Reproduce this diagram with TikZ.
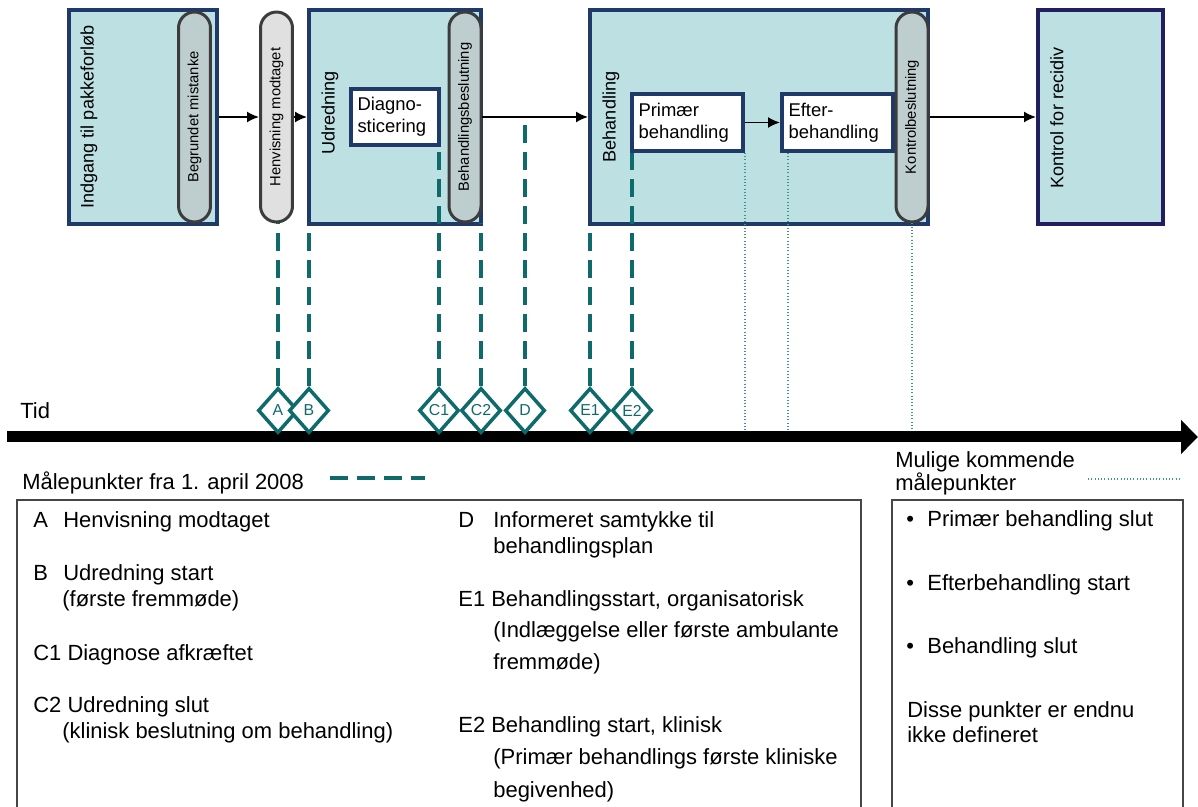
\documentclass[tikz,border=0pt]{standalone}
\usepackage{fontspec}
\setmainfont{Liberation Sans}
\usetikzlibrary{shapes.geometric,arrows.meta}

\definecolor{kassefyld}{RGB}{189,224,227}
\definecolor{marine}{RGB}{31,58,104}
\definecolor{indigo}{RGB}{34,30,96}
\definecolor{pillefyld}{RGB}{190,206,206}
\definecolor{pillelys}{RGB}{224,224,224}
\definecolor{pillekant}{RGB}{60,60,60}
\definecolor{petrol}{RGB}{15,107,107}
\definecolor{petrollys}{RGB}{60,150,150}
\definecolor{rammegraa}{RGB}{70,70,70}

\tikzset{
	kasse/.style={draw=marine, line width=0.08cm, fill=kassefyld, minimum height=4.28cm, inner sep=0},
	pille/.style={draw=pillekant, line width=0.06cm, fill=pillefyld, rounded corners=0.32cm, minimum width=4.2cm, minimum height=0.64cm, inner sep=0, rotate=90, font=\fontsize{8.4}{10}\selectfont},
	titel/.style={rotate=90, inner sep=0, font=\fontsize{10.3}{12}\selectfont},
	indre/.style={draw=marine, line width=0.08cm, fill=white, align=left, minimum height=1.14cm, inner xsep=0.13cm, font=\fontsize{10.5}{12.5}\selectfont},
	pil/.style={-{Latex[length=0.24cm,width=0.22cm]}, line width=0.035cm},
	punkt/.style={diamond, draw=petrol, line width=0.07cm, fill=white, minimum width=0.8cm, minimum height=0.9cm, inner sep=0, text=petrol, font=\fontsize{9}{10}\selectfont},
	maal/.style={draw=petrol, line width=0.07cm, dash pattern=on 0.36cm off 0.18cm},
	mulig/.style={draw=petrollys, line width=0.025cm, dash pattern=on 0.02cm off 0.045cm},
	ramme/.style={draw=rammegraa, line width=0.025cm},
	tekst/.style={anchor=base west, inner sep=0, font=\fontsize{12.5}{15}\selectfont}
}

\begin{document}
\begin{tikzpicture}[x=0.02cm, y=-0.02cm]
	\useasboundingbox (0,0) rectangle (1198,807);
	
	%%% Kasser
	
	% Indgang
	\node[kasse, minimum width=2.96cm] (indgang) at (143,117) {};
	\node[titel] (indgang-t) at (89,117) {Indgang til pakkeforløb};
	\node[pille] (begrundet) at (194.5,117) {Begrundet mistanke};
	\node[pille, fill=pillelys] (henv) at (276.5,117) {Henvisning modtaget};
	
	% Udredning
	\node[kasse, minimum width=3.44cm] (udr) at (395,117) {};
	\node[titel] (udr-t) at (330,113) {Udredning};
	\node[indre, text width=1.5cm] (diag) at (395,117) {Diagno-\\sticering};
	\node[pille] (beslut) at (465,117) {Behandlingsbeslutning};
	
	% Behandling
	\node[kasse, minimum width=6.76cm] (behandling) at (759,117) {};
	\node[titel] (behandling-t) at (611,117) {Behandling};
	\node[indre, text width=1.96cm] (primaer) at (687.5,122.5) {Primær\\behandling};
	\node[indre, text width=1.96cm] (efter) at (837.5,122.5) {Efter-\\behandling};
	\node[pille] (kbeslut) at (912,117) {Kontrolbeslutning};
	
	% Kontrol
	\node[kasse, draw=indigo, minimum width=2.5cm] (kontrol) at (1100.5,117) {};
	\node[titel] (kontrol-t) at (1057,118) {Kontrol for recidiv};
	
	% Pile
	\draw[pil] (indgang) -- (henv);
	\draw[pil] (henv) -- (udr);
	\draw[pil] (beslut) -- (behandling);
	\draw[pil] (primaer) -- (efter);
	\draw[pil] (kbeslut) -- (kontrol);
	
	%%% Tidslinje
	
	\coordinate (t0) at (7,437);
	\coordinate (t1) at (1198,437);
	\coordinate (tidtop) at (0,432);
	
	% Mulige kommende maalepunkter
	\draw[mulig] (primaer.south east) -- (primaer.south east |- tidtop);
	\draw[mulig] ([xshift=0.16cm]efter.south west) -- ([xshift=0.16cm]efter.south west |- tidtop);
	\draw[mulig] (kbeslut.west) -- (kbeslut.west |- tidtop);
	
	\draw[line width=0.22cm, -{Triangle[length=0.34cm,width=0.66cm]}] (t0) -- (t1);
	\node[tekst] (tid) at (20,419) {Tid};
	
	% Maalepunkter
	\node[punkt] (A) at (278,410.5) {A};
	\node[punkt] (B) at (309,410.5) {B};
	\node[punkt] (C1) at (439,410.5) {C1};
	\node[punkt] (C2) at (481,410.5) {C2};
	\node[punkt] (D) at (525,410.5) {D};
	\node[punkt] (E1) at (590,410.5) {E1};
	\node[punkt] (E2) at (632,410.5) {E2};
	
	\draw[maal] (A.north) -- (A.north |- henv.west);
	\draw[maal] (B.north) -- (B.north |- udr.south);
	\draw[maal] (C1.north) -- (C1.north |- diag.south);
	\draw[maal] (C2.north) -- (C2.north |- beslut.west);
	\draw[maal] (D.north) -- (D.north |- beslut);
	\draw[maal] (E1.north) -- (E1.north |- behandling.south);
	\draw[maal] (E2.north) -- (E2.north |- primaer.south);
	
	%%% Forklaring
	
	\node[tekst] (maal-t) at (22,490) {Målepunkter fra 1. april 2008};
	\draw[maal] (330,478) -- (425,478);
	\node[tekst] (mulig-t1) at (895,468) {Mulige kommende};
	\node[tekst] (mulig-t2) at (895,491) {målepunkter};
	\draw[mulig] (1088,479) -- (1182,479);
	
	\draw[ramme] (17,812) |- (861,500) -- (861,812);
	\draw[ramme] (892,812) |- (1183,500) -- (1183,812);
	
	% Venstre spalte
	\node[tekst] (a-k) at (33,528) {A};
	\node[tekst] (a-t) at (63,528) {Henvisning modtaget};
	\node[tekst] (b-k) at (33,581) {B};
	\node[tekst] (b-t) at (63,581) {Udredning start};
	\node[tekst] (b-t2) at (62,607) {(første fremmøde)};
	\node[tekst] (c1-t) at (33,661) {C1 Diagnose afkræftet};
	\node[tekst] (c2-t) at (33,713) {C2 Udredning slut};
	\node[tekst] (c2-t2) at (62,739) {(klinisk beslutning om behandling)};
	
	% Midterste spalte
	\node[tekst] (d-k) at (458,528) {D};
	\node[tekst] (d-t) at (493,528) {Informeret samtykke til};
	\node[tekst] (d-t2) at (493,554) {behandlingsplan};
	\node[tekst] (e1-t) at (458,607) {E1 Behandlingsstart, organisatorisk};
	\node[tekst] (e1-t2) at (493,638) {(Indlæggelse eller første ambulante};
	\node[tekst] (e1-t3) at (493,670) {fremmøde)};
	\node[tekst] (e2-t) at (458,733) {E2 Behandling start, klinisk};
	\node[tekst] (e2-t2) at (493,765) {(Primær behandlings første kliniske};
	\node[tekst] (e2-t3) at (493,797) {begivenhed)};
	
	% Hoejre spalte
	\node[tekst] (p1-k) at (906,527) {•};
	\node[tekst] (p1-t) at (927,527) {Primær behandling slut};
	\node[tekst] (p2-k) at (906,591) {•};
	\node[tekst] (p2-t) at (927,591) {Efterbehandling start};
	\node[tekst] (p3-k) at (906,654) {•};
	\node[tekst] (p3-t) at (927,654) {Behandling slut};
	\node[tekst] (disse-t) at (907,718) {Disse punkter er endnu};
	\node[tekst] (disse-t2) at (907,743) {ikke defineret};
\end{tikzpicture}
\end{document}
